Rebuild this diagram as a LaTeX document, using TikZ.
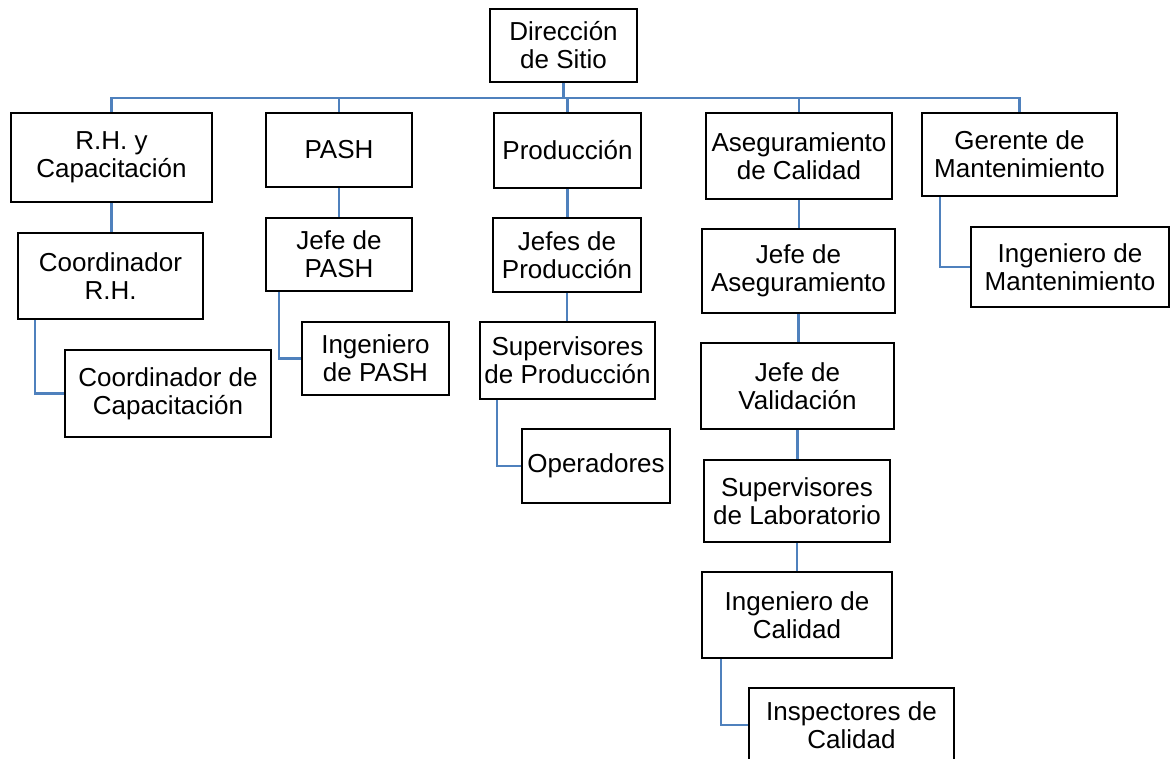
\documentclass[tikz,border=0pt]{standalone}
\usepackage{fontspec}
\setmainfont{Liberation Sans}
\usepackage{tikz}
\usetikzlibrary{positioning}
\definecolor{linkblue}{HTML}{4F81BD}

\begin{document}
\begin{tikzpicture}[
    x=1pt, y=-1pt,
    unit/.style={draw=black, line width=2pt, rectangle, inner sep=2pt, align=center, font=\fontsize{26}{28}\selectfont},
    link/.style={draw=linkblue, line width=2.4pt}
]
\useasboundingbox (0,0) rectangle (1171,759);

\node[unit, minimum width=147pt, minimum height=73pt] (dir) at (563.5,45.5) {Dirección\\de Sitio};
\node[unit, minimum width=201pt, minimum height=89pt] (rh) at (111.5,157.5) {R.H. y\\Capacitación};
\node[unit, minimum width=146pt, minimum height=74pt] (pash) at (339,150) {PASH};
\node[unit, minimum width=147pt, minimum height=75pt] (prod) at (567.5,150.5) {Producción};
\node[unit, minimum width=186pt, minimum height=86pt] (aseg) at (799,156) {Aseguramiento\\de Calidad};
\node[unit, minimum width=195pt, minimum height=83pt] (gman) at (1019.5,154.5) {Gerente de\\Mantenimiento};

\node[unit, minimum width=185pt, minimum height=86pt] (crh) at (110.5,276) {Coordinador\\R.H.};
\node[unit, minimum width=206pt, minimum height=87pt] (ccap) at (168,393.5) {Coordinador de\\Capacitación};
\node[unit, minimum width=146pt, minimum height=73pt] (jpash) at (339,254.5) {Jefe de\\PASH};
\node[unit, minimum width=147pt, minimum height=73pt] (ipash) at (375.5,358.5) {Ingeniero\\de PASH};
\node[unit, minimum width=148pt, minimum height=74pt] (jprod) at (567,255) {Jefes de\\Producción};
\node[unit, minimum width=175pt, minimum height=77pt] (sprod) at (567.5,360.5) {Supervisores\\de Producción};
\node[unit, minimum width=148pt, minimum height=74pt] (oper) at (596,466) {Operadores};
\node[unit, minimum width=193pt, minimum height=84pt] (jaseg) at (798.5,271) {Jefe de\\Aseguramiento};
\node[unit, minimum width=193pt, minimum height=86pt] (jval) at (797.5,386) {Jefe de\\Validación};
\node[unit, minimum width=186pt, minimum height=82pt] (slab) at (797,501) {Supervisores\\de Laboratorio};
\node[unit, minimum width=190pt, minimum height=86pt] (ical) at (797,615) {Ingeniero de\\Calidad};
\node[unit, minimum width=205pt, minimum height=74pt] (insp) at (851.5,725) {Inspectores de\\Calidad};
\node[unit, minimum width=198pt, minimum height=80pt] (iman) at (1070,267) {Ingeniero de\\Mantenimiento};

\coordinate (bus) at (563.5,98);
\foreach \n in {rh,pash,prod,aseg,gman}
    \draw[link] (dir.south) -- (bus) -| (\n.north);

\draw[link] (rh.south) -- (rh.south |- crh.north);
\draw[link] (pash.south) -- (pash.south |- jpash.north);
\draw[link] (prod.south) -- (prod.south |- jprod.north);
\draw[link] (jprod.south) -- (jprod.south |- sprod.north);
\draw[link] (aseg.south) -- (aseg.south |- jaseg.north);
\draw[link] (jaseg.south) -- (jaseg.south |- jval.north);
\draw[link] (jval.south) -- (jval.south |- slab.north);
\draw[link] (slab.south) -- (slab.south |- ical.north);

\draw[link] (crh.south west) ++(18,0) |- (ccap.west);
\draw[link] (jpash.south west) ++(14,0) |- (ipash.west);
\draw[link] (sprod.south west) ++(18,0) |- (oper.west);
\draw[link] (ical.south west) ++(20,0) |- (insp.west);
\draw[link] (gman.south west) ++(19,0) |- (iman.west);

\end{tikzpicture}
\end{document}
